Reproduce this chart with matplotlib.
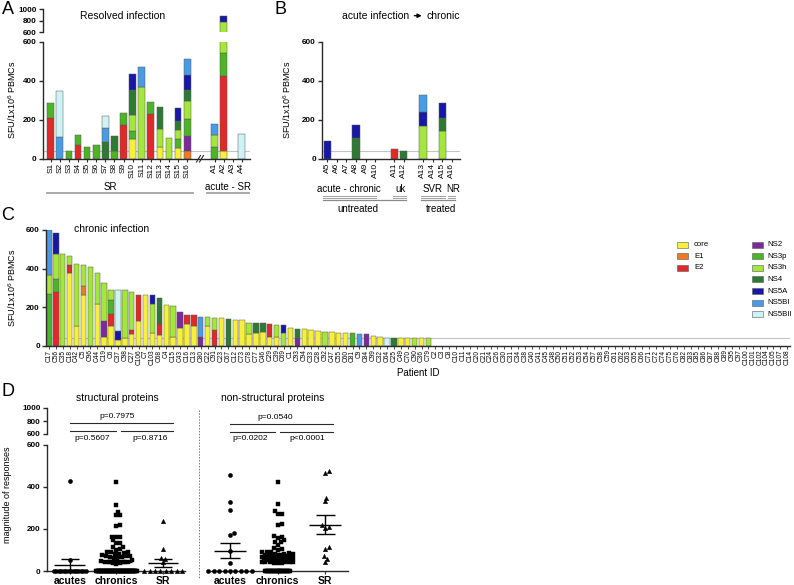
import numpy as np
import matplotlib
matplotlib.use('Agg')
import matplotlib.pyplot as plt
from matplotlib.lines import Line2D
from matplotlib.patches import Rectangle, FancyArrowPatch

plt.rcParams['font.family'] = ['Liberation Sans', 'DejaVu Sans']
plt.rcParams['mathtext.fontset'] = 'custom'
plt.rcParams['mathtext.rm'] = 'Liberation Sans'
plt.rcParams['mathtext.default'] = 'regular'

# ---------------- data ----------------
proteins = ['core', 'E1', 'E2', 'NS2', 'NS3p', 'NS3h', 'NS4', 'NS5A', 'NS5BI', 'NS5BII']
prot_colors = ['#F6F03C', '#EE7B22', '#E02A2A', '#7A2A9A', '#4DB327',
               '#A5E63C', '#2E7A35', '#1818A6', '#4A9BE6', '#CDF3F6']

# Panel A (resolved infection)
a_labels = ['S1', 'S2', 'S3', 'S4', 'S5', 'S6', 'S7', 'S8', 'S9', 'S10', 'S11', 'S12',
            'S13', 'S14', 'S15', 'S16', 'A1', 'A2', 'A3', 'A4']
a_core = {'S10': 100, 'S13': 60, 'S15': 55, 'A2': 42}
a_E1 = {'S16': 42}
a_E2 = {'S1': 210, 'S4': 72, 'S9': 173, 'S12': 230, 'A2': 383}
a_NS2 = {'S16': 73}
a_NS3p = {'S1': 75, 'S3': 42, 'S4': 50, 'S5': 62, 'S6': 70, 'S8': 42, 'S9': 63, 'S10': 42,
          'S12': 60, 'S15': 45, 'S16': 90, 'A1': 60, 'A2': 115}
a_NS3h = {'S10': 80, 'S11': 366, 'S13': 92, 'S14': 105, 'S15': 48, 'S16': 92, 'A1': 60, 'A2': 230}
a_NS4 = {'S7': 88, 'S8': 73, 'S10': 128, 'S13': 113, 'S15': 44, 'S16': 53}
a_NS5A = {'S10': 82, 'S15': 70, 'S16': 78, 'A2': 115}
a_NS5BI = {'S2': 112, 'S7': 70, 'S11': 104, 'S16': 82, 'A1': 58}
a_NS5BII = {'S2': 236, 'S7': 60, 'A4': 125}

# Panel B (acute -> chronic)
b_labels = ['A5', 'A6', 'A7', 'A8', 'A9', 'A10', 'A11', 'A12', 'A13', 'A14', 'A15', 'A16']
b_E2 = {'A11': 52}
b_NS3h = {'A13': 170, 'A15': 142}
b_NS4 = {'A8': 108, 'A12': 40, 'A15': 65}
b_NS5A = {'A5': 92, 'A8': 64, 'A13': 72, 'A15': 78}
b_NS5BI = {'A13': 83}

# Panel C (chronic infection)
c_labels = ['C17', 'C56', 'C35', 'C18', 'C42', 'C5', 'C96', 'C44', 'C19', 'C6', 'C37', 'C98',
            'C27', 'C106', 'C7', 'C103', 'C68', 'C4', 'C15', 'C43', 'C16', 'C13', 'C80', 'C22',
            'C91', 'C23', 'C67', 'C12', 'C73', 'C78', 'C77', 'C46', 'C29', 'C39', 'C69', 'C1',
            'C93', 'C94', 'C33', 'C28', 'C92', 'C47', 'C55', 'C60', 'C81', 'C9', 'C84', 'C99',
            'C32', 'C64', 'C25', 'C49', 'C70', 'C90', 'C36', 'C79',
            'C2', 'C3', 'C8', 'C10', 'C11', 'C14', 'C20', 'C21', 'C24', 'C26', 'C30', 'C31',
            'C34', 'C38', 'C40', 'C41', 'C45', 'C48', 'C50', 'C51', 'C52', 'C53', 'C54', 'C57',
            'C58', 'C59', 'C61', 'C62', 'C63', 'C65', 'C66', 'C71', 'C72', 'C74', 'C75', 'C76',
            'C82', 'C83', 'C85', 'C86', 'C87', 'C88', 'C89', 'C95', 'C97', 'C100', 'C101',
            'C102', 'C104', 'C105', 'C107', 'C108']
c_core = {'C18': 376, 'C42': 101, 'C5': 266, 'C44': 219, 'C19': 44, 'C6': 101, 'C37': 31,
          'C98': 40, 'C27': 63, 'C106': 128, 'C7': 264, 'C103': 66, 'C68': 58, 'C4': 212,
          'C15': 48, 'C43': 91, 'C16': 112, 'C13': 105, 'C22': 103, 'C23': 145, 'C12': 135,
          'C73': 135, 'C78': 60, 'C77': 68, 'C46': 72, 'C29': 45, 'C39': 45, 'C1': 91,
          'C94': 88, 'C33': 81, 'C28': 76, 'C47': 70, 'C55': 69, 'C60': 68, 'C99': 52,
          'C32': 48, 'C49': 41, 'C70': 41, 'C36': 39}
c_E1 = {'C5': 45}
c_E2 = {'C56': 280, 'C18': 44, 'C6': 62, 'C27': 21, 'C106': 136, 'C68': 57, 'C16': 48,
        'C13': 54, 'C91': 83, 'C29': 67}
c_NS2 = {'C19': 87, 'C43': 87, 'C80': 45, 'C93': 40, 'C84': 60}
c_NS3p = {'C17': 268, 'C56': 66, 'C6': 75, 'C81': 66}
c_NS3h = {'C17': 101, 'C56': 131, 'C35': 477, 'C18': 45, 'C42': 324, 'C5': 109, 'C96': 408,
          'C44': 159, 'C19': 194, 'C6': 52, 'C98': 249, 'C27': 196, 'C103': 153, 'C15': 161,
          'C22': 45, 'C91': 64, 'C78': 60, 'C39': 64, 'C69': 65, 'C92': 73, 'C90': 40, 'C79': 39}
c_NS4 = {'C68': 135, 'C67': 138, 'C77': 50, 'C46': 48, 'C93': 48, 'C25': 42}
c_NS5A = {'C56': 105, 'C37': 49, 'C103': 45, 'C69': 43}
c_NS5BI = {'C17': 231, 'C80': 107, 'C9': 60}
c_NS5BII = {'C37': 209, 'C64': 43}

# Panel D (magnitude of responses)
d_groups = ['acutes', 'chronics', 'SR']
d_acute_struct = [425, 52, 0, 0, 0, 0, 0, 0, 0, 0, 0, 0, 0, 0, 0, 0]
d_sr_struct = [235, 102, 60, 57, 41, 0, 0, 0, 0, 0, 0, 0, 0]
d_acute_nonstruct = [454, 327, 287, 178, 173, 97, 38, 0, 0, 0, 0, 0, 0, 0, 0, 0]
d_chronic_nonstruct = [423, 319, 286, 271, 271, 225, 217, 168, 162, 158, 146, 136, 136, 124,
                       111, 106, 101, 90, 88, 88, 85, 83, 80, 80, 78, 76, 75, 73, 72, 70, 70,
                       68, 66, 65, 64, 62, 61, 60, 60, 58, 57, 55, 55, 54, 52, 51, 50, 50, 48,
                       47, 46, 45, 45, 44, 43, 42, 41, 40, 40, 39,
                       0, 0, 0, 0, 0, 0, 0, 0, 0, 0, 0, 0, 0, 0, 0, 0, 0, 0, 0, 0, 0, 0, 0,
                       0, 0, 0, 0]
d_sr_nonstruct = [473, 467, 348, 330, 217, 208, 206, 116, 106, 70, 59, 43]
p_struct = ['p=0.7975', 'p=0.5607', 'p=0.8716']
p_nonstruct = ['p=0.0540', 'p=0.0202', 'p<0.0001']

# ---------------- helpers ----------------
W, H = 794, 585
fig = plt.figure(figsize=(W / 100, H / 100), dpi=100)
AXC = '#2a2a2a'
GRID_GREY = '#c4c4c4'


def axpx(x0, y0, x1, y1):
    return fig.add_axes([x0 / W, 1 - y1 / H, (x1 - x0) / W, (y1 - y0) / H])


def ftext(x, y, s, **kw):
    kw.setdefault('ha', 'center')
    kw.setdefault('va', 'center')
    return fig.text(x / W, 1 - y / H, s, **kw)


def fline(x0, x1, y0, y1=None, **kw):
    if y1 is None:
        y1 = y0
    fig.add_artist(Line2D([x0 / W, x1 / W], [1 - y0 / H, 1 - y1 / H],
                          transform=fig.transFigure, **kw))


def base_style(ax, yticks, bottom=True):
    for s in ['top', 'right']:
        ax.spines[s].set_visible(False)
    ax.spines['left'].set_color(AXC)
    ax.spines['left'].set_linewidth(1.0)
    ax.spines['bottom'].set_color(AXC)
    ax.spines['bottom'].set_linewidth(1.0)
    if not bottom:
        ax.spines['bottom'].set_visible(False)
        ax.tick_params(axis='x', bottom=False, labelbottom=False)
    ax.set_yticks(yticks)
    ax.set_yticklabels([str(t) for t in yticks], fontweight='bold', fontsize=5.8)
    ax.tick_params(axis='y', length=3, width=1, pad=1.5, color=AXC)
    ax.patch.set_alpha(0)


def stacked(ax, labels, xpos, layers, width):
    xpos = np.asarray(xpos, float)
    bottom = np.zeros(len(labels))
    for d, col in zip(layers, prot_colors):
        vals = np.array([d.get(l, 0) for l in labels], float)
        m = vals > 0
        if m.any():
            ax.bar(xpos[m], vals[m], bottom=bottom[m], width=width, color=col,
                   edgecolor='#5a5a5a', linewidth=0.35, zorder=2)
        bottom += vals


# ---------------- Panel A ----------------
a_layers = [a_core, a_E1, a_E2, a_NS2, a_NS3p, a_NS3h, a_NS4, a_NS5A, a_NS5BI, a_NS5BII]
a_x = list(range(16)) + [18, 19, 20, 21]
a_xlim = (-0.85, 21.9)
axA = axpx(43, 41.7, 250, 158.7)
stacked(axA, a_labels, a_x, a_layers, 0.74)
axA.set_xlim(*a_xlim)
axA.set_ylim(0, 600)
axA.axhline(40, color=GRID_GREY, lw=0.8, zorder=1)
base_style(axA, [0, 200, 400, 600])
axA.set_xticks(a_x)
axA.set_xticklabels(a_labels, rotation=90, fontsize=6)
axA.tick_params(axis='x', length=2, width=0.8, pad=1, color=AXC)

axA2 = axpx(43, 9, 250, 32.3)
stacked(axA2, a_labels, a_x, a_layers, 0.74)
axA2.set_xlim(*a_xlim)
axA2.set_ylim(600, 1000)
base_style(axA2, [600, 800, 1000], bottom=False)

# break mark on the x axis
fline(196.5, 200.5, 162, 155.5, color=AXC, lw=0.8)
fline(199.5, 203.5, 162, 155.5, color=AXC, lw=0.8)

ftext(8, 9, 'A', fontsize=13)
ftext(123, 15.7, 'Resolved infection', fontsize=7.5)
ftext(12.5, 100, 'SFU/1x10$^6$ PBMCs', rotation=90, fontsize=6.5)
ftext(110, 186.5, 'SR', fontsize=7)
fline(47, 193, 192.7, color='#9a9a9a', lw=1.2)
ftext(228, 186.5, 'acute - SR', fontsize=7)
fline(207, 249, 192.7, color='#9a9a9a', lw=1.2)

# ---------------- Panel B ----------------
b_layers = [{}, {}, b_E2, {}, {}, b_NS3h, b_NS4, b_NS5A, b_NS5BI, {}]
b_x = [0, 1, 2, 3, 4, 5, 7, 8, 10, 11, 12, 13]
axB = axpx(322, 41.7, 460, 158.7)
stacked(axB, b_labels, b_x, b_layers, 0.74)
axB.set_xlim(-0.55, 13.87)
axB.set_ylim(0, 600)
axB.axhline(40, color=GRID_GREY, lw=0.8, zorder=1)
base_style(axB, [0, 200, 400, 600])
axB.set_xticks(b_x)
axB.set_xticklabels(b_labels, rotation=90, fontsize=6)
axB.tick_params(axis='x', length=2, width=0.8, pad=1, color=AXC)

ftext(281, 9, 'B', fontsize=13)
ftext(409, 15.7, 'acute infection', ha='right', fontsize=7.5)
fig.add_artist(FancyArrowPatch((411.5 / W, 1 - 15.7 / H), (424.5 / W, 1 - 15.7 / H),
                               transform=fig.transFigure, arrowstyle='-|>',
                               mutation_scale=6, lw=0.9, color='k'))
ftext(426.5, 15.7, 'chronic', ha='left', fontsize=7.5)
ftext(287.5, 100, 'SFU/1x10$^6$ PBMCs', rotation=90, fontsize=6.5)

for txt, xc in [('acute - chronic', 349), ('uk', 400.7), ('SVR', 432.3), ('NR', 452.7)]:
    ftext(xc, 189, txt, fontsize=7)
for x0, x1 in [(323, 376), (392.7, 406), (420.7, 445), (448.3, 455)]:
    fline(x0, x1, 195.6, color='#a0a0a0', lw=0.7)
    fline(x0, x1, 197.6, color='#a0a0a0', lw=0.7)
fline(323, 406, 199.6, color='#8a8a8a', lw=0.9)
fline(420.7, 455, 199.6, color='#8a8a8a', lw=0.9)
ftext(358, 209.3, 'untreated', fontsize=7)
ftext(440.7, 209.3, 'treated', fontsize=7)

# ---------------- Panel C ----------------
c_layers = [c_core, c_E1, c_E2, c_NS2, c_NS3p, c_NS3h, c_NS4, c_NS5A, c_NS5BI, c_NS5BII]
c_x = np.arange(len(c_labels))
axC = axpx(46, 230, 790, 346)
stacked(axC, c_labels, c_x, c_layers, 0.78)
axC.set_xlim(-0.43, 107.4)
axC.set_ylim(0, 600)
axC.axhline(40, color=GRID_GREY, lw=0.8, zorder=1)
base_style(axC, [0, 200, 400, 600])
axC.set_xticks(c_x)
axC.set_xticklabels(c_labels, rotation=90, fontsize=4.7)
axC.tick_params(axis='x', length=1.8, width=0.6, pad=0.8, color=AXC)

ftext(8, 216, 'C', fontsize=13)
ftext(112, 229, 'chronic infection', fontsize=7.5)
ftext(12.5, 288, 'SFU/1x10$^6$ PBMCs', rotation=90, fontsize=6.5)
ftext(418, 373, 'Patient ID', fontsize=7)

# legend
leg_cols = [(677, 694, proteins[:3], prot_colors[:3]), (752, 767.5, proteins[3:], prot_colors[3:])]
for px0, tx0, names, cols in leg_cols:
    for i, (nm, col) in enumerate(zip(names, cols)):
        yc = 244.5 + i * 11.65
        fig.add_artist(Rectangle((px0 / W, 1 - (yc + 3) / H), 11 / W, 6 / H,
                                 transform=fig.transFigure, facecolor=col,
                                 edgecolor='#5a5a5a', lw=0.4))
        ftext(tx0, yc, nm, ha='left', fontsize=5.6)

# ---------------- Panel D ----------------
d_chronic_struct = [c_core.get(l, 0) + c_E1.get(l, 0) + c_E2.get(l, 0) for l in c_labels]

ky = 126.5 / 600.0


def swarm(vals, kx, d=3.9, maxhalf=15.0, zero_w=30.0):
    vals = np.asarray(vals, float)
    xs = np.zeros(len(vals))
    zi = np.where(vals <= 0)[0]
    placed = []
    if len(zi):
        w = min((len(zi) - 1) * 5.4, zero_w)
        offs = np.linspace(-w / 2, w / 2, len(zi)) if len(zi) > 1 else np.array([0.0])
        xs[zi] = offs
        placed += [(o, 0.0) for o in offs]
    cands = [0.0]
    k = 1
    while k * 0.5 <= maxhalf:
        cands += [k * 0.5, -k * 0.5]
        k += 1
    C = np.array(cands)
    for i in [j for j in np.argsort(vals) if vals[j] > 0]:
        y = vals[i] * ky
        if placed:
            P = np.array(placed)
            Dm = np.hypot(C[:, None] - P[None, :, 0], y - P[None, :, 1]).min(axis=1)
            ok = np.where(Dm >= d)[0]
            c = C[ok[0]] if len(ok) else C[np.argmax(Dm)]
        else:
            c = 0.0
        xs[i] = c
        placed.append((c, y))
    return xs / kx


def mean_sem(ax, x, vals):
    v = np.asarray(vals, float)
    m = v.mean()
    se = v.std(ddof=1) / np.sqrt(len(v))
    kw = dict(color='k', lw=1.0, zorder=5, solid_capstyle='butt')
    ax.plot([x - 0.33, x + 0.33], [m, m], **kw)
    ax.plot([x - 0.2, x + 0.2], [m + se, m + se], **kw)
    ax.plot([x - 0.2, x + 0.2], [max(m - se, 0), max(m - se, 0)], **kw)
    ax.plot([x, x], [max(m - se, 0), m + se], **kw)


def d_panel(ax, kx, data, markers, zero_ws, show_y):
    for xi, (vals, mk, zw) in enumerate(zip(data, markers, zero_ws)):
        xo = swarm(vals, kx, zero_w=zw)
        ms = {'o': 3.0, 's': 2.8, '^': 3.2}[mk]
        ax.plot(xi + xo, vals, linestyle='none', marker=mk, ms=ms, color='k',
                mec='k', mew=0.3, clip_on=False, zorder=4)
        mean_sem(ax, xi, vals)
    ax.set_ylim(0, 600)
    ax.set_xticks([0, 1, 2])
    ax.set_xticklabels(d_groups, fontweight='bold', fontsize=7.5)
    ax.tick_params(axis='x', length=2.5, width=0.8, pad=1, color=AXC)
    base_style(ax, [0, 200, 400, 600])
    if not show_y:
        ax.spines['left'].set_visible(False)
        ax.tick_params(axis='y', left=False, labelleft=False)


axDL = axpx(47, 444.5, 185, 571)
axDL.set_xlim(-0.49, 2.47)
d_panel(axDL, 46.5, [d_acute_struct, d_chronic_struct, d_sr_struct], ['o', 's', '^'],
        [32, 40, 38], True)
axDL2 = axpx(47, 408, 185, 434)
axDL2.set_ylim(600, 1000)
base_style(axDL2, [600, 800, 1000], bottom=False)

axDR = axpx(210, 444.5, 348, 571)
axDR.set_xlim(-0.42, 2.48)
d_panel(axDR, 47.3, [d_acute_nonstruct, d_chronic_nonstruct, d_sr_nonstruct],
        ['o', 's', '^'], [43, 24, 38], False)

ftext(7.5, 392, 'D', fontsize=13)
ftext(117, 397.7, 'structural proteins', fontsize=7.5)
ftext(272.8, 398, 'non-structural proteins', fontsize=7.5)
ftext(8, 495, 'magnitude of responses', rotation=90, fontsize=6.5)

# p-value brackets
ftext(116.7, 416.7, p_struct[0], fontsize=6)
fline(70, 173, 422.7, color=AXC, lw=0.8)
fline(70, 116, 430.7, color=AXC, lw=0.8)
fline(121, 173, 430.7, color=AXC, lw=0.8)
ftext(91.7, 439, p_struct[1], fontsize=6)
ftext(150, 439, p_struct[2], fontsize=6)

ftext(275.7, 417.3, p_nonstruct[0], fontsize=6)
fline(230, 333.3, 424, color=AXC, lw=0.8)
fline(230, 275, 431.7, color=AXC, lw=0.8)
fline(280, 333.3, 431.7, color=AXC, lw=0.8)
ftext(250, 439, p_nonstruct[1], fontsize=6)
ftext(307.5, 439, p_nonstruct[2], fontsize=6)

# dotted divider
fline(198.5, 198.5, 410, 578, color='#777777', lw=0.7, linestyle=(0, (1.5, 1.5)))

fig.savefig('out.png', dpi=100)
